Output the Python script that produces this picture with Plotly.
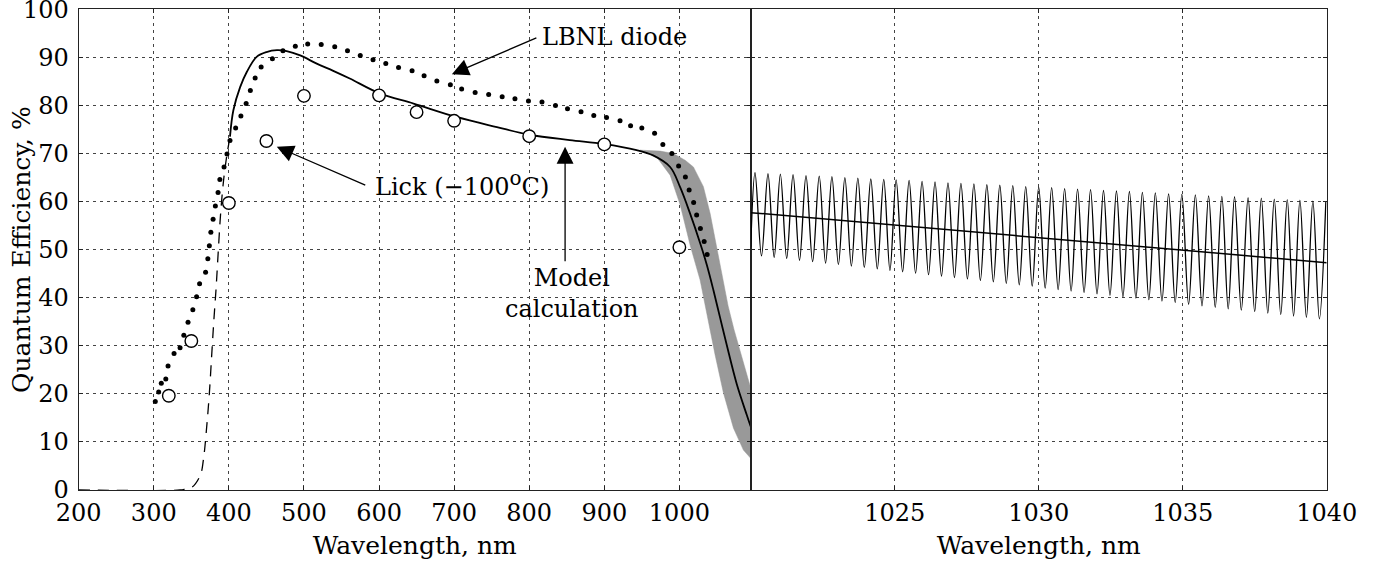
import plotly.graph_objects as go

# ---------------- data ----------------
# Model calculation, short-wavelength (dashed) part
model_dash_wl = [200, 335, 342, 351, 362, 366, 370.5, 374, 377, 380, 383, 386, 389, 393, 397, 401.5]
model_dash_qe = [0, 0, 0.2, 0.6, 3.1, 6.2, 13.2, 20.1, 27.7, 35.3, 42.0, 50.0, 57.5, 64.5, 69.3, 73.5]

# Model calculation, solid part
model_wl = [401.5, 406, 415, 424, 437, 450, 464, 477, 495, 517, 539, 561, 601, 646, 703, 757,
            801, 854, 899, 943, 965, 987.7, 1001, 1014.3, 1027.6, 1036.6, 1045.3, 1054.3, 1063.2,
            1076.5, 1089.8, 1095]
model_qe = [73.5, 79.0, 83.8, 87.0, 90.1, 91.1, 91.5, 91.3, 90.4, 88.7, 87.2, 85.6, 82.5, 80.4, 77.6, 75.5,
            73.9, 72.8, 72.0, 70.7, 69.6, 67.2, 63.0, 57.5, 51.4, 46.8, 41.6, 35.8, 30.1,
            22.0, 15.6, 13.2]

# Fringing envelope (grey band)
band_upper_wl = [947.8, 974.4, 991.7, 1007.7, 1018.7, 1032.0, 1041.0, 1049.9, 1056.9, 1064.9, 1072.9,
                 1080.9, 1088.9, 1095]
band_upper_qe = [70.7, 70.5, 70.0, 68.6, 67.2, 63.1, 57.5, 50.3, 44.3, 38.3, 33.3, 29.1, 24.9, 21.2]
band_lower_wl = [947.8, 970.0, 987.7, 1001.1, 1014.4, 1027.6, 1036.5, 1047.6, 1058.7, 1072.0, 1085.3, 1095]
band_lower_qe = [70.7, 69.2, 65.5, 59.3, 50.9, 43.7, 36.4, 28.1, 20.2, 12.9, 8.3, 6.6]

# LBNL diode (dotted)
lbnl_wl = [302, 306.5, 310, 316, 319, 327, 335, 340, 345.6, 352, 357, 361, 369, 372, 374, 376, 379, 382,
           385.6, 388, 393.6, 397.5, 401.5, 409, 416, 423, 428.6, 435, 443, 458, 472, 488.5, 505, 523,
           541, 558, 575, 592, 609, 626, 644, 660, 677, 695, 710, 728, 746, 764, 781, 799, 817, 835,
           851, 869, 886, 903, 921, 935, 950, 967, 978, 990, 999, 1008, 1013, 1019, 1023, 1028, 1033, 1037]
lbnl_qe = [18.4, 20.4, 22.2, 23.1, 25.8, 28.4, 29.6, 32.2, 34.9, 37.5, 40.2, 42.9, 45.3, 48.1, 50.8, 53.6, 56.3, 59.1,
           61.9, 64.6, 67.2, 69.9, 72.7, 75.3, 77.8, 80.4, 83.1, 85.7, 88.0, 89.7, 91.4, 92.3, 92.8, 92.7,
           92.2, 91.4, 90.4, 89.5, 88.7, 87.9, 87.2, 86.2, 85.1, 84.3, 83.4, 82.7, 82.3, 81.8, 81.4, 80.9, 80.7, 80.0,
           79.3, 78.7, 77.9, 77.5, 76.8, 75.8, 75.3, 74.2, 71.9, 70.0, 67.4, 65.1, 62.4, 59.8, 57.2, 54.4, 51.7, 49.0]

# Lick (-100 C) measurements
lick_wl = [320, 350, 400, 450, 500, 600, 650, 700, 800, 900, 1000]
lick_qe = [19.6, 31.0, 59.7, 72.6, 82.0, 82.1, 78.6, 76.8, 73.6, 71.9, 50.5]

# Right panel: smooth model and fringing (extrema)
mean_wl = [1020, 1040]
mean_qe = [57.7, 47.3]

fringe_wl = [1020.0,
    1020.15, 1020.375, 1020.60, 1020.815, 1021.03, 1021.25, 1021.47, 1021.695, 1021.92, 1022.15,
    1022.38, 1022.60, 1022.82, 1023.045, 1023.27, 1023.495, 1023.72, 1023.945, 1024.17, 1024.395,
    1024.62, 1024.835, 1025.05, 1025.275, 1025.50, 1025.725, 1025.95, 1026.175, 1026.40, 1026.625,
    1026.85, 1027.075, 1027.30, 1027.525, 1027.75, 1027.975, 1028.20, 1028.425, 1028.65, 1028.875,
    1029.10, 1029.325, 1029.55, 1029.775, 1030.00, 1030.225, 1030.45, 1030.675, 1030.90, 1031.125,
    1031.35, 1031.575, 1031.80, 1032.025, 1032.25, 1032.475, 1032.70, 1032.925, 1033.15, 1033.375,
    1033.60, 1033.825, 1034.05, 1034.28, 1034.51, 1034.74, 1034.97, 1035.205, 1035.44, 1035.67,
    1035.90, 1036.13, 1036.36, 1036.58, 1036.80, 1037.035, 1037.27, 1037.50, 1037.73, 1037.955,
    1038.18, 1038.405, 1038.63, 1038.85, 1039.07, 1039.295, 1039.52, 1039.745, 1039.97]
fringe_qe = [50.5,
    66.0, 48.7, 65.8, 48.4, 65.7, 48.2, 65.6, 47.8, 65.4, 47.5,
    65.3, 47.2, 65.2, 46.9, 65.0, 46.6, 64.9, 46.3, 64.7, 46.0,
    64.6, 45.7, 64.5, 45.4, 64.4, 45.1, 64.2, 44.8, 64.1, 44.5,
    63.9, 44.2, 63.8, 43.9, 63.7, 43.6, 63.5, 43.3, 63.4, 43.0,
    63.3, 42.7, 63.1, 42.4, 63.0, 42.0, 62.9, 41.7, 62.7, 41.4,
    62.6, 41.1, 62.5, 40.8, 62.3, 40.5, 62.2, 40.2, 62.1, 39.9,
    61.9, 39.6, 61.8, 39.3, 61.6, 39.0, 61.5, 38.6, 61.4, 38.3,
    61.2, 38.0, 61.1, 37.7, 61.0, 37.4, 60.8, 37.1, 60.7, 36.8,
    60.5, 36.5, 60.4, 36.2, 60.3, 35.9, 60.1, 35.6, 60.0]

y_ticks = list(range(0, 101, 10))
left_x_ticks = [200, 300, 400, 500, 600, 700, 800, 900, 1000]
right_x_ticks = [1025, 1030, 1035, 1040]

# ---------------- figure ----------------
W, H = 1385, 566
FONT = "DejaVu Serif"
left_dom = [78.7 / W, 750.7 / W]
right_dom = [750.7 / W, 1326.7 / W]
y_dom = [1 - 490 / H, 1 - 9.3 / H]

fig = go.Figure()

# grey fringing band
fig.add_trace(go.Scatter(
    x=band_upper_wl + band_lower_wl[::-1], y=band_upper_qe + band_lower_qe[::-1],
    fill="toself", fillcolor="#999999", line=dict(color="#999999", width=0.5),
    mode="lines", hoverinfo="skip", xaxis="x", yaxis="y"))

fig.add_trace(go.Scatter(x=model_dash_wl, y=model_dash_qe, mode="lines",
                         line=dict(color="black", width=1.3, dash="11px,8px", shape="spline"),
                         xaxis="x", yaxis="y"))
fig.add_trace(go.Scatter(x=model_wl, y=model_qe, mode="lines",
                         line=dict(color="black", width=1.8, shape="spline"),
                         xaxis="x", yaxis="y"))
fig.add_trace(go.Scatter(x=lbnl_wl, y=lbnl_qe, mode="markers",
                         marker=dict(color="black", size=5, line=dict(width=0)),
                         xaxis="x", yaxis="y"))
fig.add_trace(go.Scatter(x=lick_wl, y=lick_qe, mode="markers",
                         marker=dict(symbol="circle", size=12.5, color="white",
                                     line=dict(color="black", width=1.4)),
                         xaxis="x", yaxis="y"))

# right panel
fig.add_trace(go.Scatter(x=fringe_wl, y=fringe_qe, mode="lines",
                         line=dict(color="black", width=1.3, shape="spline"),
                         xaxis="x2", yaxis="y2"))
fig.add_trace(go.Scatter(x=mean_wl, y=mean_qe, mode="lines",
                         line=dict(color="black", width=1.5),
                         xaxis="x2", yaxis="y2"))

grid = dict(showgrid=True, gridcolor="#444444", gridwidth=1, griddash="3px,4px")
axline = dict(showline=True, linecolor="#222222", linewidth=1, mirror="ticks",
              ticks="inside", ticklen=4, tickcolor="#222222", zeroline=False,
              automargin=False, ticklabeloverflow="allow")
tickfont = dict(family=FONT, size=24, color="black")
titlefont = dict(family=FONT, size=25, color="black")

fig.update_layout(
    template="none",
    width=W, height=H, margin=dict(l=0, r=0, t=0, b=0, pad=0),
    paper_bgcolor="white", plot_bgcolor="white", showlegend=False,
    xaxis=dict(domain=left_dom, range=[200, 1095], tickvals=left_x_ticks, anchor="y",
               tickfont=tickfont, ticklabelstandoff=1,
               title=dict(text="Wavelength, nm", font=titlefont, standoff=10),
               **grid, **axline),
    yaxis=dict(domain=y_dom, range=[0, 100], tickvals=y_ticks, anchor="x",
               tickfont=tickfont, ticklabelstandoff=4, **grid, **axline),
    xaxis2=dict(domain=right_dom, range=[1020, 1040], tickvals=right_x_ticks, anchor="y2",
                tickfont=tickfont, ticklabelstandoff=1,
                title=dict(text="Wavelength, nm", font=titlefont, standoff=10),
                **grid, **axline),
    yaxis2=dict(domain=y_dom, range=[0, 100], tickvals=y_ticks, anchor="x2", matches="y",
                showticklabels=False, **grid, **axline),
)

# y-axis title
fig.add_annotation(x=21 / W, y=(1 - 250 / H), xref="paper", yref="paper", text="Quantum Efficiency, %",
                   textangle=-90, showarrow=False, font=titlefont, xanchor="center", yanchor="middle")

annfont = dict(family=FONT, size=24, color="black")
arrow = dict(showarrow=True, arrowhead=2, arrowsize=2.6, arrowwidth=1.3, arrowcolor="black",
             text="", xref="x", yref="y")
fig.add_annotation(x=697, y=86.5, ax=86, ay=-37, **arrow)
fig.add_annotation(x=463.8, y=71.4, ax=90, ay=39, **arrow)
fig.add_annotation(x=847.8, y=71.4, ax=0, ay=116, **arrow)

fig.add_annotation(x=913, y=94.2, text="LBNL diode", showarrow=False, xref="x", yref="y", font=annfont)
fig.add_annotation(x=710, y=63.8,
                   text="Lick (\u2212100<sup><span style='font-size:20px'>o</span></sup>C)",
                   showarrow=False, xref="x", yref="y", font=annfont)
fig.add_annotation(x=857, y=40.9, text="Model<br>calculation", showarrow=False,
                   xref="x", yref="y", font=annfont)

fig.write_html("out.html", config={"displayModeBar": False},
               post_script="document.body.style.margin='0px';")
